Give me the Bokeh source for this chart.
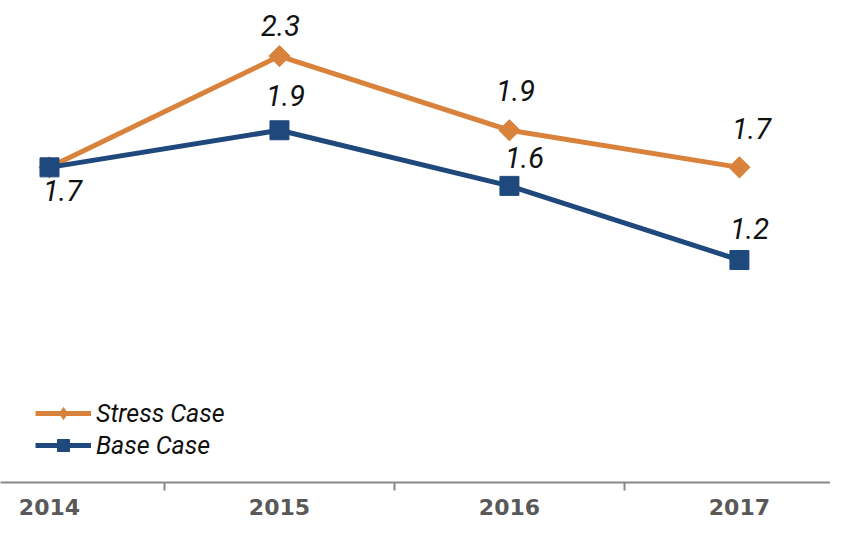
import math
from bokeh.plotting import figure
from bokeh.models import FixedTicker, Range1d, ColumnDataSource, Legend, LegendItem
from bokeh.core.properties import value
from bokeh.embed import file_html
from bokeh.resources import INLINE

years = ["2014", "2015", "2016", "2017"]
stress = [1.7, 2.3, 1.9, 1.7]
base = [1.7, 1.9, 1.6, 1.2]

ORANGE = "#D9823B"
BLUE = "#1F497D"
FONT = "Roboto"

xs = list(range(len(years)))

p = figure(width=830, height=520, output_backend="svg", toolbar_location=None,
           x_range=Range1d(-0.213, 3.396), y_range=Range1d(0, 2.6),
           min_border_left=0, min_border_right=0, min_border_top=0, min_border_bottom=38)
p.outline_line_color = None
p.grid.visible = False
p.yaxis.visible = False
p.background_fill_color = "white"
p.border_fill_color = "white"

ax = p.xaxis[0]
ax.ticker = FixedTicker(ticks=xs, minor_ticks=[0.5, 1.5, 2.5])
ax.major_label_overrides = {i: y for i, y in enumerate(years)}
ax.major_tick_line_color = None
ax.major_tick_out = 0
ax.major_tick_in = 0
ax.minor_tick_line_color = "#888888"
ax.minor_tick_line_width = 2
ax.minor_tick_out = 8
ax.minor_tick_in = 0
ax.axis_line_color = "#888888"
ax.axis_line_width = 2
ax.major_label_text_font = "DejaVu Sans"
ax.major_label_text_font_style = "bold"
ax.major_label_text_font_size = "22px"
ax.major_label_text_color = "#595959"
ax.major_label_standoff = 8

src = ColumnDataSource(dict(x=xs, stress=stress, base=base))

sl = p.line("x", "stress", source=src, line_color=ORANGE, line_width=5)
# diamond used for the legend, hidden beneath the rotated square
sd = p.scatter("x", "stress", source=src, marker="diamond", size=20,
               fill_color=ORANGE, line_color=ORANGE)
sm = p.scatter("x", "stress", source=src, marker="square", angle=math.pi / 4, size=15,
               fill_color=ORANGE, line_color=ORANGE)
bl = p.line("x", "base", source=src, line_color=BLUE, line_width=5)
bm = p.scatter("x", "base", source=src, marker="square", size=19, fill_color=BLUE, line_color=BLUE)

# value labels (offsets are pixel styling)
lbl_style = dict(text_font=value(FONT), text_font_style="italic", text_font_size="29px",
                 text_color="#111111", text_align="center", text_baseline="middle")
s_src = ColumnDataSource(dict(x=xs[1:], y=stress[1:], t=[f"{v:.1f}" for v in stress[1:]],
                              dx=[1, 6, 12], dy=[-31, -40, -39]))
b_src = ColumnDataSource(dict(x=xs, y=base, t=[f"{v:.1f}" for v in base],
                              dx=[13, 6, 15, 10], dy=[23, -35, -28, -32]))
p.text(x="x", y="y", text="t", x_offset="dx", y_offset="dy", source=s_src, **lbl_style)
p.text(x="x", y="y", text="t", x_offset="dx", y_offset="dy", source=b_src, **lbl_style)

legend = Legend(items=[LegendItem(label="Stress Case", renderers=[sl, sd]),
                       LegendItem(label="Base Case", renderers=[bl, bm])],
                location=(35, 22), glyph_width=56, glyph_height=30, label_height=30,
                spacing=2, padding=5, label_standoff=5, background_fill_alpha=0,
                border_line_color=None, label_text_font=FONT, label_text_font_style="italic",
                label_text_font_size="25px", label_text_color="#111111", margin=0)
p.add_layout(legend, "center")

open("out.html", "w").write(file_html(p, INLINE))
